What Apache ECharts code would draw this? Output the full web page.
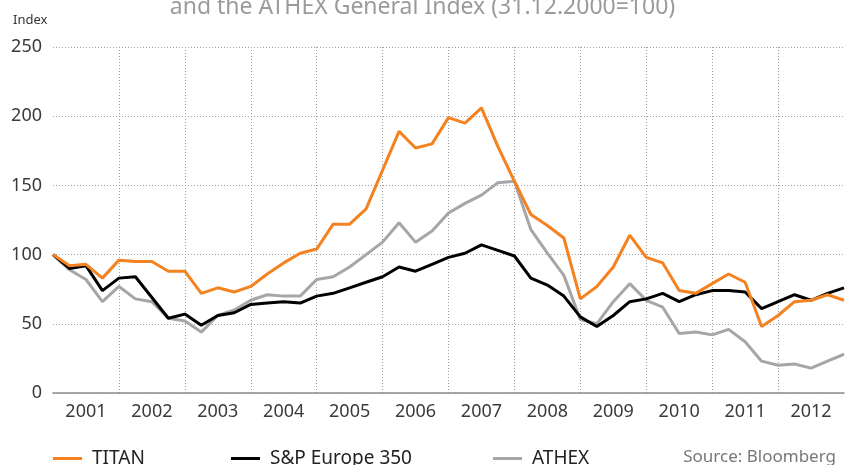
<!DOCTYPE html>
<html>
<head>
<meta charset="utf-8">
<script src="https://cdn.jsdelivr.net/npm/echarts@6/dist/echarts.min.js"></script>
<style type="text/css">
html,body{margin:0;padding:0;background:#fff}
#chart_main{width:845px;height:465px}
</style>
</head>
<body>
<div id="chart_main"></div>
<script type="text/javascript">
// quarter ends, 31.12.2000 .. 31.12.2012
var quarters = [
	'12/00',
	'03/01','06/01','09/01','12/01','03/02','06/02','09/02','12/02',
	'03/03','06/03','09/03','12/03','03/04','06/04','09/04','12/04',
	'03/05','06/05','09/05','12/05','03/06','06/06','09/06','12/06',
	'03/07','06/07','09/07','12/07','03/08','06/08','09/08','12/08',
	'03/09','06/09','09/09','12/09','03/10','06/10','09/10','12/10',
	'03/11','06/11','09/11','12/11','03/12','06/12','09/12','12/12'
];
var years = ['2001','2002','2003','2004','2005','2006','2007','2008','2009','2010','2011','2012'];

var titan = [100,
	92,93,83,96, 95,95,88,88, 72,76,73,77, 86,94,101,104,
	122,122,133,161, 189,177,180,199, 195,206,178,153, 129,121,112,68,
	77,91,114,98, 94,74,72,79, 86,80,48,56, 66,67,71,67];
var sp350 = [100,
	90,92,74,83, 84,69,54,57, 49,56,58,64, 65,66,65,70,
	72,76,80,84, 91,88,93,98, 101,107,103,99, 83,78,70,55,
	48,56,66,68, 72,66,71,74, 74,73,61,66, 71,67,72,76];
var athex = [100,
	89,82,66,77, 68,66,54,52, 44,56,60,67, 71,70,70,82,
	84,91,100,109, 123,109,117,130, 137,143,152,153, 118,101,85,53,
	50,66,79,67, 62,43,44,42, 46,37,23,20, 21,18,23,28];

var myChart = echarts.init(document.getElementById('chart_main'));
var font = 'Noto Sans';
var option = {
	animation: false,
	textStyle: {fontFamily: font},
	title: [
		{text: 'and the ATHEX General Index (31.12.2000=100)', left: 'center', top: -9,
			textStyle: {color: '#9b9b9b', fontSize: 23, fontWeight: 'normal', fontFamily: font}},
		{text: 'Index', left: 8, top: 9,
			textStyle: {color: '#333', fontSize: 13, fontWeight: 'normal', fontFamily: font}},
		{text: 'Source: Bloomberg', right: 4, top: 444,
			textStyle: {color: '#777', fontSize: 17, fontWeight: 'normal', fontFamily: font}}
	],
	legend: [
		{data: ['TITAN'], left: 53, top: 449},
		{data: ['S&P Europe 350'], left: 231, top: 449},
		{data: ['ATHEX'], left: 493, top: 449}
	].map(function(l){
		l.icon = 'rect';
		l.itemWidth = 29;
		l.itemHeight = 3;
		l.padding = 0;
		l.textStyle = {fontSize: 19, color: '#222', fontFamily: font, padding: [0,0,0,5]};
		return l;
	}),
	grid: {left: 53, right: 1, top: 47, bottom: 72},
	xAxis: [
		{type: 'category', data: quarters, boundaryGap: false,
			axisLine: {show: false}, axisTick: {show: false}, axisLabel: {show: false},
			splitLine: {show: true, interval: function(i){ return i > 0 && i < 48 && i % 4 === 0; },
				lineStyle: {color: '#a0a0a0', type: [1,2], width: 1}}},
		{type: 'category', data: years, boundaryGap: true, position: 'bottom',
			axisLine: {show: true, lineStyle: {color: '#8c8c8c', width: 1.5}},
			axisTick: {show: false},
			axisLabel: {color: '#3a3a3a', fontSize: 18, margin: 10, fontFamily: font},
			splitLine: {show: false}}
	],
	yAxis: {
		type: 'value', min: 0, max: 250, interval: 50,
		axisLine: {show: false}, axisTick: {show: false},
		axisLabel: {color: '#3a3a3a', fontSize: 18, margin: 11, fontFamily: font},
		splitLine: {lineStyle: {color: '#a0a0a0', type: [1,2], width: 1}}
	},
	series: [
		{name: 'TITAN', type: 'line', data: titan, xAxisIndex: 0, showSymbol: false,
			lineStyle: {color: '#f58220', width: 3}, itemStyle: {color: '#f58220'}, z: 4},
		{name: 'S&P Europe 350', type: 'line', data: sp350, xAxisIndex: 0, showSymbol: false,
			lineStyle: {color: '#000', width: 3}, itemStyle: {color: '#000'}, z: 3},
		{name: 'ATHEX', type: 'line', data: athex, xAxisIndex: 0, showSymbol: false,
			lineStyle: {color: '#a6a6a6', width: 3}, itemStyle: {color: '#a6a6a6'}, z: 2}
	]
};
myChart.setOption(option);
</script>
</body>
</html>
